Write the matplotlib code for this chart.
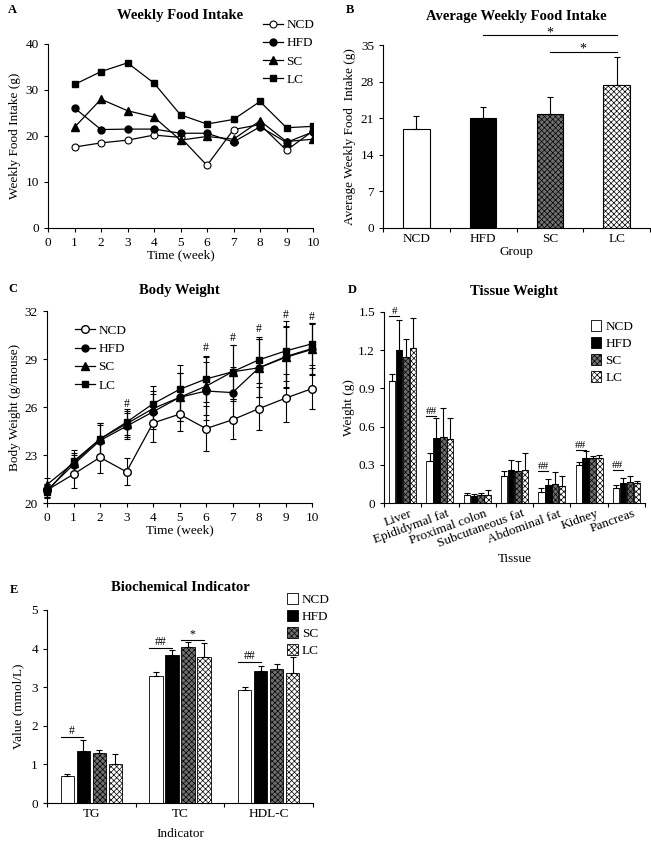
import numpy as np
import matplotlib
matplotlib.use("Agg")
import matplotlib.pyplot as plt
import matplotlib.transforms as mtransforms
from matplotlib.lines import Line2D

plt.rcParams['font.family'] = ['Liberation Serif', 'DejaVu Serif']
plt.rcParams['font.size'] = 9
plt.rcParams['hatch.linewidth'] = 0.5
plt.rcParams['axes.linewidth'] = 0.8

groups = ["NCD", "HFD", "SC", "LC"]

# A: weekly food intake
weeks_a = np.arange(1, 11)
food_ncd = [17.6, 18.5, 19.1, 20.2, 19.7, 13.6, 21.4, 22.5, 16.9, 21.1]
food_hfd = [26.1, 21.4, 21.5, 21.5, 20.6, 20.6, 18.7, 22.0, 18.6, 20.9]
food_sc = [21.9, 28.0, 25.5, 24.1, 19.1, 19.9, 19.3, 23.3, 18.8, 19.3]
food_lc = [31.2, 34.0, 35.9, 31.5, 24.6, 22.6, 23.6, 27.5, 21.8, 22.1]

# B: average weekly food intake
avg_food = [19.0, 21.1, 21.8, 27.4]
avg_food_err = [2.5, 2.1, 3.2, 5.3]

# C: body weight
weeks_c = np.arange(0, 11)
bw_ncd = [20.8, 21.8, 22.85, 21.95, 25.0, 25.55, 24.65, 25.2, 25.9, 26.55, 27.15]
bw_hfd = [20.8, 22.4, 23.9, 24.8, 25.7, 26.6, 27.0, 26.9, 28.45, 29.1, 29.6]
bw_sc = [21.15, 22.5, 24.0, 24.95, 25.9, 26.6, 27.3, 28.2, 28.45, 29.15, 29.65]
bw_lc = [20.7, 22.6, 24.0, 25.05, 26.2, 27.1, 27.75, 28.2, 28.95, 29.5, 29.95]
bw_ncd_err = [0.4, 0.85, 1.0, 0.85, 1.2, 1.05, 1.4, 1.2, 1.35, 1.5, 1.3]
bw_hfd_err = [0.4, 0.6, 1.0, 0.8, 1.1, 1.5, 1.8, 1.6, 1.8, 1.9, 1.6]
bw_sc_err = [0.4, 0.6, 1.0, 0.8, 1.1, 1.5, 1.8, 1.7, 1.8, 1.9, 1.6]
bw_lc_err = [0.4, 0.7, 1.0, 0.8, 1.1, 1.5, 1.45, 1.7, 1.45, 1.9, 1.3]
bw_sig_weeks = [3, 6, 7, 8, 9, 10]
bw_sig_y = [26.2, 29.7, 30.3, 30.9, 31.75, 31.6]

# D: tissue weight
tissues = ["Liver", "Epididymal fat", "Proximal colon", "Subcutaneous fat",
           "Abdominal fat", "Kidney", "Pancreas"]
tw_ncd = [0.957, 0.33, 0.065, 0.215, 0.09, 0.30, 0.115]
tw_hfd = [1.20, 0.514, 0.055, 0.26, 0.145, 0.355, 0.16]
tw_sc = [1.148, 0.519, 0.06, 0.255, 0.15, 0.35, 0.165]
tw_lc = [1.218, 0.50, 0.06, 0.26, 0.135, 0.355, 0.155]
tw_ncd_err = [0.06, 0.06, 0.01, 0.04, 0.03, 0.02, 0.025]
tw_hfd_err = [0.24, 0.15, 0.015, 0.08, 0.045, 0.05, 0.04]
tw_sc_err = [0.14, 0.225, 0.015, 0.075, 0.09, 0.02, 0.045]
tw_lc_err = [0.235, 0.165, 0.04, 0.135, 0.08, 0.025, 0.02]
tw_sig = [(0, "#", 1.465), (1, "##", 0.684), (4, "##", 0.25), (5, "##", 0.417), (6, "##", 0.256)]

# E: biochemical indicators
indicators = ["TG", "TC", "HDL-C"]
bc_ncd = [0.71, 3.30, 2.93]
bc_hfd = [1.35, 3.84, 3.41]
bc_sc = [1.29, 4.05, 3.47]
bc_lc = [1.01, 3.78, 3.38]
bc_ncd_err = [0.05, 0.10, 0.08]
bc_hfd_err = [0.29, 0.13, 0.14]
bc_sc_err = [0.09, 0.13, 0.14]
bc_lc_err = [0.26, 0.36, 0.39]

bar_styles = [
    dict(facecolor="white", hatch=None),
    dict(facecolor="black", hatch=None),
    dict(facecolor="#707070", hatch="xxxxxx"),
    dict(facecolor="white", hatch="xxxxxx"),
]

W, H = 651, 842
fig = plt.figure(figsize=(W / 100, H / 100), dpi=100)


def add_ax(l, r, t, b):
    return fig.add_axes([l / W, 1 - b / H, (r - l) / W, (b - t) / H])


def style(ax):
    ax.spines['top'].set_visible(False)
    ax.spines['right'].set_visible(False)
    ax.tick_params(direction='out', length=3, width=0.8, labelsize=9.5)


def cat_axis(ax, n, labels, **kw):
    ax.set_xlim(0, n)
    ax.set_xticks(np.arange(n + 1))
    ax.set_xticklabels([])
    ax.set_xticks(np.arange(n) + 0.5, labels, minor=True, **kw)
    ax.tick_params(axis='x', which='minor', length=0, labelsize=9.5)


# ---- A
axA = add_ax(48, 313, 44, 228)
style(axA)
axA.plot(weeks_a, food_ncd, 'k-o', mfc='white', ms=5, lw=0.9, mew=0.8, label="NCD")
axA.plot(weeks_a, food_hfd, 'k-o', ms=5, lw=0.9, label="HFD")
axA.plot(weeks_a, food_sc, 'k-^', ms=5.5, lw=0.9, label="SC")
axA.plot(weeks_a, food_lc, 'k-s', ms=5, lw=0.9, label="LC")
axA.set_xlim(0, 10)
axA.set_ylim(0, 40)
axA.set_xticks(range(0, 11))
axA.set_yticks(range(0, 41, 10))
axA.set_xlabel("Time (week)", fontsize=9.5, labelpad=0)
axA.set_ylabel("Weekly Food Intake (g)", fontsize=9.5, labelpad=3)
axA.set_title("Weekly Food Intake", fontsize=10.5, fontweight='bold', pad=18)
axA.legend(loc='upper right', bbox_to_anchor=(1.05, 1.2), frameon=False, fontsize=9.5,
           handlelength=1.5, handletextpad=0.3, labelspacing=0.45)

# ---- B
axB = add_ax(383, 650, 45, 228)
style(axB)
xB = np.arange(4) + 0.5
for i in range(4):
    st = bar_styles[i]
    axB.bar(xB[i], avg_food[i], width=0.4, color=st['facecolor'], hatch=st['hatch'],
            edgecolor='black', linewidth=0.8)
    axB.errorbar(xB[i], avg_food[i], yerr=[[0], [avg_food_err[i]]], fmt='none',
                 ecolor='black', elinewidth=0.8, capsize=2.5, capthick=0.8)
cat_axis(axB, 4, groups)
axB.set_ylim(0, 35)
axB.set_yticks(range(0, 36, 7))
axB.set_xlabel("Group", fontsize=9.5, labelpad=1)
axB.set_ylabel("Average Weekly Food  Intake (g)", fontsize=9.5, labelpad=3)
axB.set_title("Average Weekly Food Intake", fontsize=10.5, fontweight='bold', pad=18)
for x0, x1, y, dy in [(xB[1], xB[3], 37.0, 0.3), (xB[2], xB[3], 33.6, 0.6)]:
    axB.plot([x0, x1], [y, y], color='black', lw=0.8, clip_on=False)
    axB.text((x0 + x1) / 2, y + dy, "*", ha='center', va='center', fontsize=10)

# ---- C
axC = add_ax(47, 312, 311, 503)
style(axC)
handles = []
for vals, err, mk, mfc, ms, lab in [
        (bw_ncd, bw_ncd_err, 'o', 'white', 5.5, "NCD"),
        (bw_hfd, bw_hfd_err, 'o', 'black', 5, "HFD"),
        (bw_sc, bw_sc_err, '^', 'black', 5.5, "SC"),
        (bw_lc, bw_lc_err, 's', 'black', 5, "LC")]:
    axC.errorbar(weeks_c, vals, yerr=err, fmt='-' + mk, color='black', mfc=mfc, mec='black',
                 ms=ms, lw=0.9, elinewidth=0.8, capsize=2, capthick=0.8, clip_on=False)
    handles.append(Line2D([], [], color='black', marker=mk, mfc=mfc, mec='black',
                          ms=ms, lw=0.9, label=lab))
for w, y in zip(bw_sig_weeks, bw_sig_y):
    axC.text(w, y, "#", ha='center', va='center', fontsize=8.5)
axC.set_xlim(0, 10)
axC.set_ylim(20, 32)
axC.set_xticks(range(0, 11))
axC.set_yticks([20, 23, 26, 29, 32])
axC.set_xlabel("Time (week)", fontsize=9.5, labelpad=0)
axC.set_ylabel("Body Weight (g/mouse)", fontsize=9.5, labelpad=3)
axC.set_title("Body Weight", fontsize=10.5, fontweight='bold', pad=12)
axC.legend(handles=handles, loc='upper left', bbox_to_anchor=(0.06, 0.99), frameon=False,
           fontsize=9.5, handlelength=1.5, handletextpad=0.3, labelspacing=0.45)


# ---- grouped bar helper
def grouped(ax, series, errs, width, step):
    n = len(series[0])
    centers = np.arange(n) + 0.5
    for i, (vals, err) in enumerate(zip(series, errs)):
        st = bar_styles[i]
        xs = centers + (i - 1.5) * step
        ax.bar(xs, vals, width=width, color=st['facecolor'], hatch=st['hatch'],
               edgecolor='black', linewidth=0.6, label=groups[i])
        ax.errorbar(xs, vals, yerr=[np.zeros(n), err], fmt='none', ecolor='black',
                    elinewidth=0.8, capsize=2, capthick=0.8)
    return centers


# ---- D
axD = add_ax(384, 645, 312, 503)
style(axD)
cD = grouped(axD, [tw_ncd, tw_hfd, tw_sc, tw_lc],
             [tw_ncd_err, tw_hfd_err, tw_sc_err, tw_lc_err], 0.17, 0.185)
cat_axis(axD, 7, tissues, rotation=20, ha='right', rotation_mode='anchor')
offset = mtransforms.ScaledTranslation(0.07, 0, fig.dpi_scale_trans)
for lbl in axD.get_xticklabels(minor=True):
    lbl.set_transform(lbl.get_transform() + offset)
axD.set_ylim(0, 1.5)
axD.set_yticks([0, 0.3, 0.6, 0.9, 1.2, 1.5], ["0", "0.3", "0.6", "0.9", "1.2", "1.5"])
axD.set_xlabel("Tissue", fontsize=9.5, labelpad=2)
axD.set_ylabel("Weight (g)", fontsize=9.5, labelpad=2)
axD.set_title("Tissue Weight", fontsize=10.5, fontweight='bold', pad=12)
for k, txt, y in tw_sig:
    x0 = cD[k] - 1.5 * 0.185 - 0.085
    x1 = cD[k] - 0.5 * 0.185
    axD.plot([x0, x1], [y, y], color='black', lw=0.8)
    axD.text((x0 + x1) / 2, y, txt, ha='center', va='bottom', fontsize=8)
axD.legend(loc='upper right', bbox_to_anchor=(1.0, 1.02), frameon=False, fontsize=9.5,
           handlelength=0.8, handleheight=0.9, handletextpad=0.3, labelspacing=0.3)

# ---- E
axE = add_ax(47, 313, 610, 803)
style(axE)
cE = grouped(axE, [bc_ncd, bc_hfd, bc_sc, bc_lc],
             [bc_ncd_err, bc_hfd_err, bc_sc_err, bc_lc_err], 0.15, 0.18)
cat_axis(axE, 3, indicators)
axE.set_ylim(0, 5)
axE.set_yticks(range(0, 6))
axE.set_xlabel("Indicator", fontsize=9.5, labelpad=6)
axE.set_ylabel("Value (mmol/L)", fontsize=9.5, labelpad=5)
axE.set_title("Biochemical Indicator", fontsize=10.5, fontweight='bold', pad=14)
for k, i0, i1, txt, y in [(0, 0, 1, "#", 1.71), (1, 0, 1, "##", 4.01),
                          (1, 2, 3, "*", 4.22), (2, 0, 1, "##", 3.64)]:
    x0 = cE[k] + (i0 - 1.5) * 0.18 - 0.075
    x1 = cE[k] + (i1 - 1.5) * 0.18
    axE.plot([x0, x1], [y, y], color='black', lw=0.8)
    axE.text((x0 + x1) / 2, y, txt, ha='center', va='bottom', fontsize=8.5)
axE.legend(loc='upper left', bbox_to_anchor=(278 / W, 1 - 584 / H), bbox_transform=fig.transFigure,
           frameon=False, fontsize=9.5, handlelength=0.8, handleheight=0.9,
           handletextpad=0.3, labelspacing=0.3, borderpad=0.2)

# panel letters
for txt, x, y in [("A", 8, 10), ("B", 346, 10), ("C", 8, 289), ("D", 348, 290), ("E", 10, 590)]:
    fig.text(x / W, 1 - y / H, txt, fontsize=9, fontweight='bold', va='center')

fig.savefig("out.png", dpi=100)
